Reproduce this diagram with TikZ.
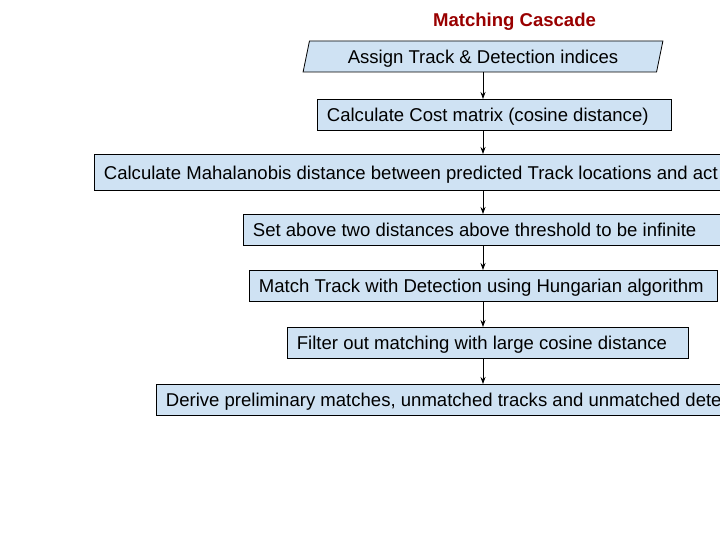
\documentclass[tikz,border=0pt]{standalone}
\usepackage{fontspec}
\setmainfont{Liberation Sans}
\usetikzlibrary{shapes.geometric,arrows.meta}
\definecolor{boxblue}{HTML}{CFE2F3}
\definecolor{titlered}{HTML}{990000}
\newcommand{\leftfill}[2]{\makebox[#1][l]{#2}}
\tikzset{
  boxtext/.style={font=\fontsize{18.55}{22}\selectfont, text height=18pt, text depth=4pt},
  stepbox/.style={boxtext, draw=black, line width=0.8pt, fill=boxblue,
    anchor=north west, inner xsep=9.5pt, inner ysep=0pt},
  arr/.style={draw=black, line width=0.8pt, -{Stealth[length=7pt,width=5pt]}},
  titletext/.style={font=\fontsize{18.55}{22}\selectfont\bfseries, text=titlered, anchor=base}
}
\begin{document}
\begin{tikzpicture}[x=1pt,y=-1pt]
\useasboundingbox (0,0) rectangle (720,540);
\clip (0,0) rectangle (720,540);
\fill[white] (0,0) rectangle (720,540);
\node[titletext] (title) at (514.5,26.7) {Matching Cascade};
\node[boxtext, trapezium, trapezium left angle=77, trapezium right angle=103,
      trapezium stretches=true, draw=black, line width=0.8pt, fill=boxblue,
      minimum width=360pt, minimum height=31pt, inner ysep=0pt] (b1) at (483,56.5)
      {Assign Track \& Detection indices};
\node[stepbox, minimum height=31pt] (b2) at (317,99)
      {\leftfill{335pt}{Calculate Cost matrix (cosine distance)}};
\node[stepbox, minimum height=36pt] (b3) at (94,154)
      {\leftfill{700pt}{Calculate Mahalanobis distance between predicted Track locations and act}};
\node[stepbox, minimum height=31pt] (b4) at (243,214)
      {\leftfill{460pt}{Set above two distances above threshold to be infinite}};
\node[stepbox, minimum height=31pt] (b5) at (249,270)
      {\leftfill{449pt}{Match Track with Detection using Hungarian algorithm}};
\node[stepbox, minimum height=31pt] (b6) at (287,327)
      {\leftfill{382pt}{Filter out matching with large cosine distance}};
\node[stepbox, minimum height=31pt] (b7) at (156,384)
      {\leftfill{640pt}{Derive preliminary matches, unmatched tracks and unmatched dete}};
\coordinate (ax) at (483,0);
\draw[arr] (b1.south -| ax) -- (b2.north -| ax);
\draw[arr] (b2.south -| ax) -- (b3.north -| ax);
\draw[arr] (b3.south -| ax) -- (b4.north -| ax);
\draw[arr] (b4.south -| ax) -- (b5.north -| ax);
\draw[arr] (b5.south -| ax) -- (b6.north -| ax);
\draw[arr] (b6.south -| ax) -- (b7.north -| ax);
\end{tikzpicture}
\end{document}
